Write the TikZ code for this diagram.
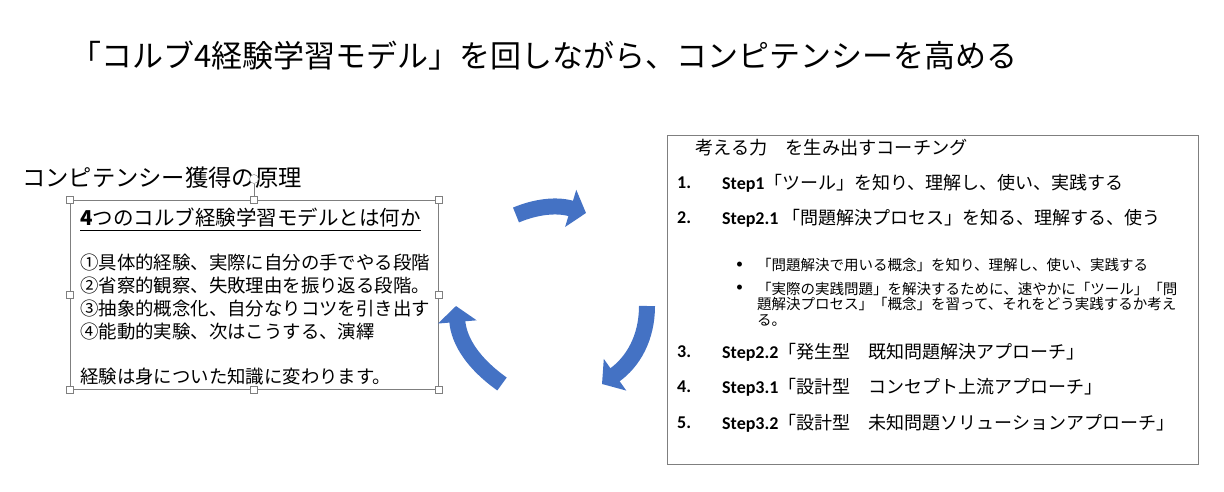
\documentclass[tikz,border=0pt]{standalone}
\usepackage{fontspec}
\setmainfont{Carlito}
\newfontfamily\jp{Noto Sans CJK JP}
\usetikzlibrary{arrows.meta}
\definecolor{cyclebl}{HTML}{4472C4}
\definecolor{framegr}{HTML}{7F7F7F}

\begin{document}
\begin{tikzpicture}[x=1pt,y=-1pt,
txt/.style={anchor=west, inner sep=0pt, font=\jp},
kolbline/.style={txt, font=\jp\fontsize{18.4}{21}\selectfont},
stepline/.style={anchor=west, inner sep=0pt, font=\fontsize{18}{20}\selectfont},
subline/.style={txt, align=left, font=\jp\fontsize{14.5}{15.5}\selectfont},
handle/.style={draw=framegr, fill=white, minimum size=7pt, inner sep=0pt},
cyclearrow/.style={line width=16pt, cyclebl, -{Triangle[width=38pt,length=16pt]}},
]
\useasboundingbox (0,0) rectangle (1224,492);

% title
\node[txt, font=\jp\fontsize{31}{31}\selectfont] (title) at (70,56)
  {「コルブ4経験学習モデル」を回しながら、コンピテンシーを高める};

% left side
\node[txt, font=\jp\fontsize{23.3}{24}\selectfont] (principle) at (22,178) {コンピテンシー獲得の原理};
\node[draw=framegr, minimum width=368pt, minimum height=189pt, inner sep=0pt] (kolb) at (254,294.5) {};
\node[kolbline, font=\jp\fontsize{20.5}{22}\selectfont] (khead) at (80,218) {\textbf{4}つのコルブ経験学習モデルとは何か};
\draw[line width=1pt] ([yshift=-3pt]khead.south west) -- ([yshift=-3pt]khead.south east);
\node[kolbline] (k1) at (80,263) {①具体的経験、実際に自分の手でやる段階};
\node[kolbline] (k2) at (80,286) {②省察的観察、失敗理由を振り返る段階。};
\node[kolbline] (k3) at (80,309) {③抽象的概念化、自分なりコツを引き出す};
\node[kolbline] (k4) at (80,332) {④能動的実験、次はこうする、演繹};
\node[kolbline] (k5) at (80,377) {経験は身についた知識に変わります。};

% selection handles
\node[draw=framegr, circle, fill=white, minimum size=9pt, inner sep=0pt] (rot) at (254,179) {};
\draw[framegr] (rot) -- (kolb.north);
\foreach \a in {north west,north,north east,west,east,south west,south,south east}
  \node[handle] at (kolb.\a) {};

% cycle arrows
\draw[cyclearrow] (516,215) .. controls (535,207) and (556,204) .. (586,213);
\draw[cyclearrow] (647,306) .. controls (647,338) and (633,362) .. (602,384);
\draw[cyclearrow] (502,384) .. controls (474,364) and (459,342) .. (456,306);

% right side
\node[draw=framegr, minimum width=531pt, minimum height=329pt, inner sep=0pt] (coach) at (932.5,299.5) {};
\node[txt, font=\jp\fontsize{18.2}{20}\selectfont] (chead) at (695,148) {考える力　を生み出すコーチング};

\node[stepline] (n1) at (677,183) {\textbf{1.}};
\node[stepline] (s1) at (722,183) {\textbf{Step1}{\jp「ツール」を知り、理解し、使い、実践する}};
\node[stepline] (n2) at (677,218) {\textbf{2.}};
\node[stepline] (s2) at (722,218) {\textbf{Step2.1} {\jp「問題解決プロセス」を知る、理解する、使う}};

\node[stepline, font=\fontsize{14}{15}\selectfont] (b1) at (736,265) {•};
\node[subline] (t1) at (757,265) {「問題解決で用いる概念」を知り、理解し、使い、実践する};
\node[stepline, font=\fontsize{14}{15}\selectfont] (b2) at (736,288) {•};
\node[subline] (t2) at (757,304) {「実際の実践問題」を解決するために、速やかに「ツール」「問\\
  題解決プロセス」「概念」を習って、それをどう実践するか考え\\
  る。};

\node[stepline] (n3) at (677,352) {\textbf{3.}};
\node[stepline] (s3) at (722,352) {\textbf{Step2.2}{\jp「発生型　既知問題解決アプローチ」}};
\node[stepline] (n4) at (677,387) {\textbf{4.}};
\node[stepline] (s4) at (722,387) {\textbf{Step3.1}{\jp「設計型　コンセプト上流アプローチ」}};
\node[stepline] (n5) at (677,423) {\textbf{5.}};
\node[stepline] (s5) at (722,423) {\textbf{Step3.2}{\jp「設計型　未知問題ソリューションアプローチ」}};
\end{tikzpicture}
\end{document}
